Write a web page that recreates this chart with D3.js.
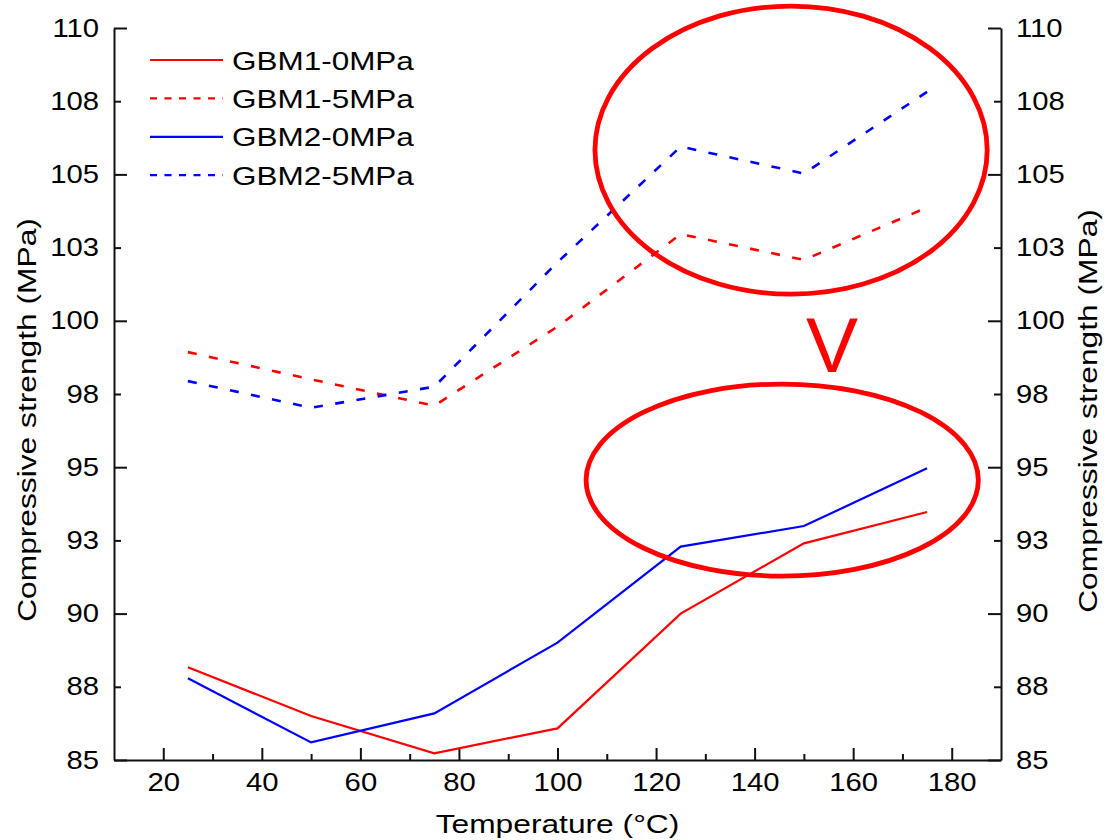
<!DOCTYPE html>
<html>
<head>
<meta charset="utf-8">
<script src="https://cdn.jsdelivr.net/npm/d3@7"></script>
<style>
body{margin:0;background:#fff;}
text{font-family:"Liberation Sans",Arial,sans-serif;fill:#000;}
</style>
</head>
<body>
<div id="chart"></div>
<script>
// data
var temps = [25, 50, 75, 100, 125, 150, 175];
var gbm1_0 = [88.17, 86.50, 85.23, 86.08, 90.00, 92.40, 93.47];
var gbm1_5 = [98.93, 98.00, 97.10, 99.80, 102.96, 102.08, 103.87];
var gbm2_0 = [87.79, 85.60, 86.59, 89.01, 92.29, 92.99, 94.96];
var gbm2_5 = [97.94, 97.03, 97.75, 102.00, 105.95, 105.03, 107.82];
var seriesNames = ["GBM1-0MPa", "GBM1-5MPa", "GBM2-0MPa", "GBM2-5MPa"];
var xTicks = [20, 30, 40, 50, 60, 70, 80, 90, 100, 110, 120, 130, 140, 150, 160, 170, 180];
var yTicks = [85, 87.5, 90, 92.5, 95, 97.5, 100, 102.5, 105, 107.5, 110];
var yTickLabels = ["85", "88", "90", "93", "95", "98", "100", "103", "105", "108", "110"];
// highlight marks: [cx, cy, rx, ry] in data units
var ellipses = [[147.4, 105.83, 39.8, 4.92], [145.6, 94.56, 39.8, 3.28]];
var vMark = [155.7, 98.25];

var W = 1109, H = 840;
var svg = d3.select("#chart").append("svg").attr("width", W).attr("height", H);

var x = d3.scaleLinear().domain([10, 190]).range([114, 1001]);
var y = d3.scaleLinear().domain([85, 110]).range([760, 28]);

// stretch text a bit wider, the source font is broad
function stretch(sel, f){
    sel.each(function(){
        var w = this.getComputedTextLength();
        d3.select(this).attr("textLength", w * f).attr("lengthAdjust", "spacingAndGlyphs");
    });
}

// left axis
var yl = svg.append("g").attr("transform", "translate(114,0)")
    .call(d3.axisLeft(y).tickValues(yTicks).tickSize(-7).tickSizeOuter(0).tickPadding(15)
        .tickFormat(function(d, i){ return yTickLabels[i]; }));
// right axis
var yr = svg.append("g").attr("transform", "translate(1001,0)")
    .call(d3.axisRight(y).tickValues(yTicks).tickSize(-7).tickSizeOuter(0).tickPadding(15)
        .tickFormat(function(d, i){ return yTickLabels[i]; }));
// bottom axis
var xb = svg.append("g").attr("transform", "translate(0,760)")
    .call(d3.axisBottom(x).tickValues(xTicks).tickSize(-6).tickSizeOuter(0).tickPadding(16)
        .tickFormat(function(d){ return d % 20 == 0 ? d : ""; }));

[yl, yr].forEach(function(g, k){
    g.selectAll(".tick line").filter(function(d){ return d % 5 == 0; }).attr("x2", k == 0 ? 13 : -13);
});
xb.selectAll(".tick line").filter(function(d){ return d % 20 == 0; }).attr("y2", -12);

[yl, yr, xb].forEach(function(g){
    g.attr("font-size", 25).attr("font-family", "Liberation Sans, Arial, sans-serif");
    g.select(".domain").attr("stroke", "#111").attr("stroke-width", 2);
    g.selectAll(".tick line").attr("stroke", "#111").attr("stroke-width", 2);
    g.selectAll(".tick text").attr("fill", "#000");
    stretch(g.selectAll(".tick text"), 1.17);
});
xb.selectAll(".tick text").attr("dy", "0.6em");

// axis titles
var xt = svg.append("text").attr("x", (x.range()[0] + x.range()[1]) / 2).attr("y", 833)
    .attr("text-anchor", "middle").attr("font-size", 26).text("Temperature (\u00B0C)");
stretch(xt, 1.22);
var ytl = svg.append("text").attr("transform", "translate(36," + 420 + ") rotate(-90)")
    .attr("text-anchor", "middle").attr("font-size", 26).text("Compressive strength (MPa)");
stretch(ytl, 1.22);
var ytr = svg.append("text").attr("transform", "translate(1097," + 411 + ") rotate(-90)")
    .attr("text-anchor", "middle").attr("font-size", 26).text("Compressive strength (MPa)");
stretch(ytr, 1.22);

// lines
var series = [
    {name: seriesNames[0], vals: gbm1_0, color: "#ff0000", dash: null},
    {name: seriesNames[1], vals: gbm1_5, color: "#ff0000", dash: "9,12.5"},
    {name: seriesNames[2], vals: gbm2_0, color: "#0000ff", dash: null},
    {name: seriesNames[3], vals: gbm2_5, color: "#0000ff", dash: "9,12.5"}
];
var line = d3.line().x(function(d, i){ return x(temps[i]); }).y(function(d){ return y(d); });

svg.append("g").selectAll("path").data(series).enter().append("path")
    .attr("d", function(d){ return line(d.vals); })
    .attr("fill", "none")
    .attr("stroke", function(d){ return d.color; })
    .attr("stroke-width", function(d){ return d.dash ? 2.6 : 2.2; })
    .attr("stroke-dasharray", function(d){ return d.dash; });

// legend
var leg = svg.append("g");
series.forEach(function(s, i){
    var cy = 60 + i * 38.4;
    leg.append("line").attr("x1", 150).attr("x2", 223).attr("y1", cy).attr("y2", cy)
        .attr("stroke", s.color).attr("stroke-width", 2.2)
        .attr("stroke-dasharray", s.dash ? "7,7.5" : null);
    var t = leg.append("text").attr("x", 232).attr("y", cy + 9.5).attr("font-size", 26).text(s.name);
    stretch(t, 1.21);
});

// red highlight marks
svg.append("g").selectAll("ellipse").data(ellipses).enter().append("ellipse")
    .attr("cx", function(d){ return x(d[0]); })
    .attr("cy", function(d){ return y(d[1]); })
    .attr("rx", function(d){ return x(d[0] + d[2]) - x(d[0]); })
    .attr("ry", function(d){ return y(d[1]) - y(d[1] + d[3]); })
    .attr("fill", "none").attr("stroke", "#ff0000").attr("stroke-width", 4.8);

svg.append("text").attr("x", x(vMark[0])).attr("y", y(vMark[1]))
    .attr("text-anchor", "middle").attr("font-size", 78).style("fill", "#ff0000").text("V");
</script>
</body>
</html>
